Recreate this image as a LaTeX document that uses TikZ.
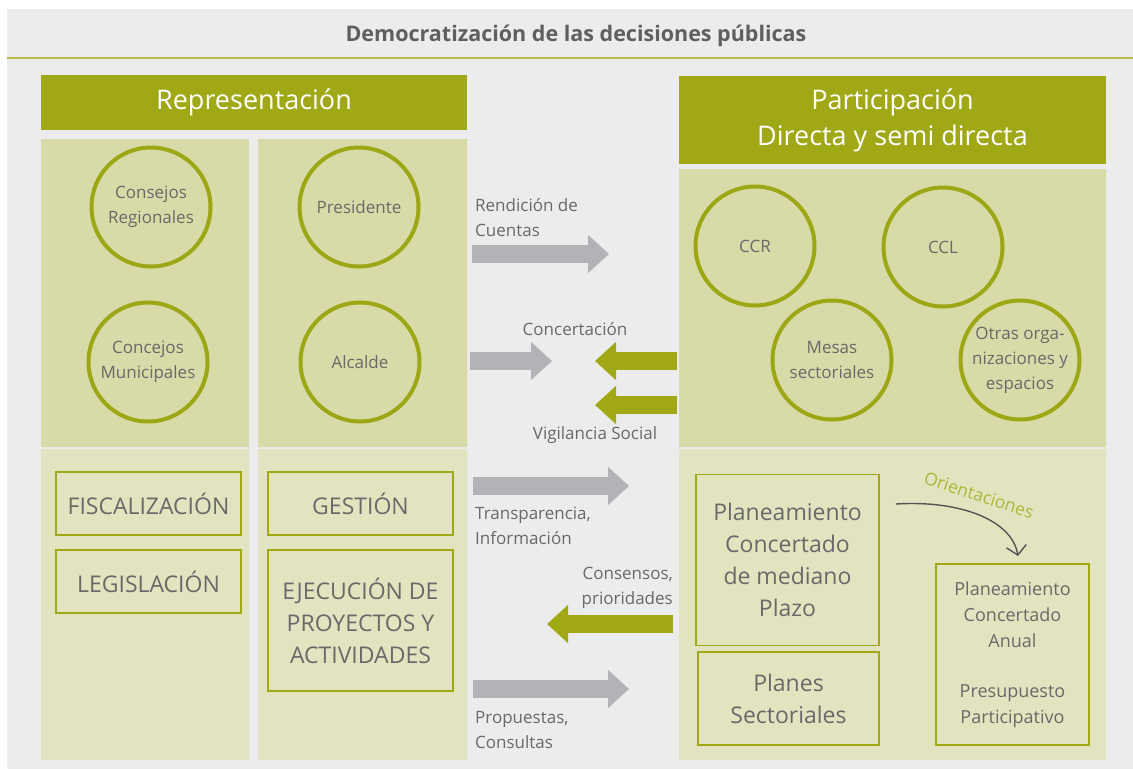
\documentclass[tikz,border=0pt]{standalone}
\usepackage{fontspec}
\setmainfont{Open Sans}
\usetikzlibrary{arrows.meta, positioning}
\definecolor{oliva}{HTML}{A0A815}
\definecolor{anillo}{HTML}{9DA614}
\definecolor{panelA}{HTML}{D8DBA7}
\definecolor{panelB}{HTML}{E2E4BF}
\definecolor{fondo}{HTML}{ECECEC}
\definecolor{flecha}{HTML}{B3B3B7}
\definecolor{texto}{HTML}{696969}
\definecolor{linea}{HTML}{B8BD4A}
\tikzstyle{ring}=[circle, draw=anillo, line width=4pt, minimum size=119pt, inner sep=0pt, align=center, text=texto, font=\fontsize{17}{25}\selectfont]
\tikzstyle{caja}=[rectangle, draw=oliva, line width=1.5pt, inner sep=0pt, align=center, text=texto]
\tikzstyle{cabecera}=[rectangle, fill=oliva, text=white, inner sep=0pt, align=center, font=\fontsize{27}{36}\selectfont]
\tikzstyle{etiqueta}=[inner sep=0pt, text=texto, font=\fontsize{17}{25}\selectfont]
\tikzstyle{gruesa}=[line width=18pt, -{Triangle[width=37pt,length=21pt]}]

\begin{document}
\begin{tikzpicture}[x=1pt, y=-1pt]
\useasboundingbox (0,0) rectangle (1133,769);
\fill[fondo] (7,9) rectangle (1133,769);
\draw[linea, line width=2pt] (7,58) -- (1133,58);
\node[text=texto!90!black, font=\bfseries\fontsize{21.5}{26}\selectfont] (titulo) at (576,36) {Democratización de las decisiones públicas};
\fill[panelA] (41,139) rectangle (249,447) (258,139) rectangle (467,447) (679,169) rectangle (1106,447);
\fill[panelB] (41,449) rectangle (249,760) (258,449) rectangle (467,760) (679,449) rectangle (1106,760);
\node[cabecera, minimum width=426pt, minimum height=55pt] (rep) at (254,102.5) {Representación};
\node[cabecera, minimum width=427pt, minimum height=88pt] (par) at (892.5,120) {Participación\\Directa y semi directa};

\node[ring] (creg) at (151,207) {Consejos\\Regionales};
\node[ring] (cmun) at (148,362) {Concejos\\Municipales};
\node[ring] (pres) at (359,207) {Presidente};
\node[ring] (alc) at (360,362) {Alcalde};
\node[ring] (ccr) at (755,246) {CCR};
\node[ring] (ccl) at (943,247) {CCL};
\node[ring] (mesas) at (832,360) {Mesas\\sectoriales};
\node[ring] (otras) at (1020,360) {Otras orga-\\nizaciones y\\espacios};

\tikzstyle{every node}=[caja];
\node[minimum width=185pt, minimum height=63pt, font=\fontsize{23}{32}\selectfont] (fisc) at (148.5,503.5) {FISCALIZACIÓN};
\node[minimum width=185pt, minimum height=63pt, font=\fontsize{23}{32}\selectfont] (legis) at (148.5,581.5) {LEGISLACIÓN};
\node[minimum width=185pt, minimum height=63pt, font=\fontsize{23}{32}\selectfont] (gest) at (360.5,503.5) {GESTIÓN};
\node[minimum width=185pt, minimum height=141pt, font=\fontsize{23}{32}\selectfont] (ejec) at (360.5,620.5) {EJECUCIÓN DE\\PROYECTOS Y\\ACTIVIDADES};
\node[minimum width=183pt, minimum height=171pt, font=\fontsize{23}{32}\selectfont] (pcmp) at (787.5,560) {Planeamiento\\Concertado\\de mediano\\Plazo};
\node[minimum width=181pt, minimum height=93pt, font=\fontsize{23}{32}\selectfont] (psec) at (788.5,698.5) {Planes\\Sectoriales};
\node[minimum width=153pt, minimum height=181pt, font=\fontsize{18}{26}\selectfont] (pca) at (1012.5,654.5) {Planeamiento\\Concertado\\Anual\\[24pt]Presupuesto\\Participativo};

\tikzstyle{every node}=[etiqueta];
\node[anchor=west, align=left] (lrend) at (475,217.5) {Rendición de\\Cuentas};
\node (lconc) at (575,329) {Concertación};
\node (lvig) at (595,435) {Vigilancia Social};
\node[anchor=west, align=left] (ltrans) at (475,526) {Transparencia,\\Información};
\node[anchor=east, align=right] (lcons) at (673,588) {Consensos,\\prioridades};
\node[anchor=west, align=left] (lprop) at (475,730) {Propuestas,\\Consultas};
\node[text=oliva!85, rotate=-18, font=\fontsize{17.5}{20}\selectfont] (lori) at (979,495) {Orientaciones};

\coordinate (a1) at (472,254); \coordinate (b1) at (609,254);
\coordinate (a2) at (470,361); \coordinate (b2) at (552,361);
\coordinate (a3) at (677,361); \coordinate (b3) at (595,361);
\coordinate (a4) at (677,405); \coordinate (b4) at (595,405);
\coordinate (a5) at (473,486); \coordinate (b5) at (629,486);
\coordinate (a6) at (673,624); \coordinate (b6) at (547,624);
\coordinate (a7) at (473,689); \coordinate (b7) at (629,689);
\coordinate (o1) at (896,504); \coordinate (o2) at (1018,556);

\draw[gruesa, flecha] (a1)--(b1); \draw[gruesa, flecha] (a2)--(b2);
\draw[gruesa, oliva] (a3)--(b3); \draw[gruesa, oliva] (a4)--(b4);
\draw[gruesa, flecha] (a5)--(b5); \draw[gruesa, oliva] (a6)--(b6);
\draw[gruesa, flecha] (a7)--(b7);
\draw[line width=1.4pt, texto!80!black, -{Straight Barb[length=9pt,width=20pt]}] (o1) .. controls (960,500) and (1012,520) .. (o2);
\end{tikzpicture}
\end{document}
